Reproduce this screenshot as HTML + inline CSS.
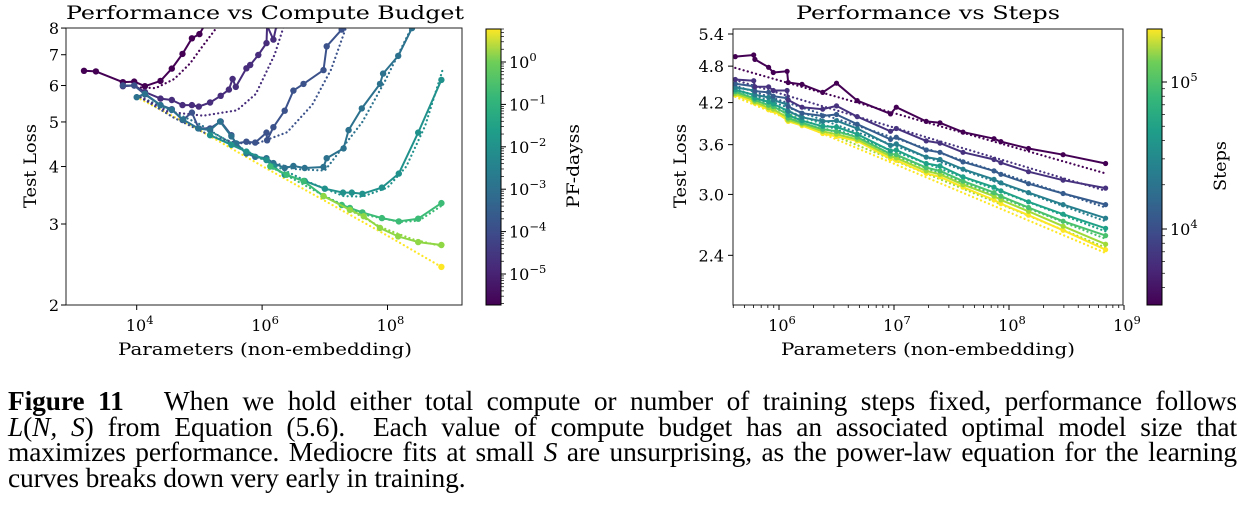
<!DOCTYPE html>
<html><head><meta charset="utf-8"><style>
body{margin:0;background:#fff;width:1245px;height:512px;overflow:hidden}
svg text{font-family:"DejaVu Serif",serif;fill:#000}
.cap{position:absolute;left:8px;width:1229px;font-family:"Liberation Serif",serif;font-size:27.4px;line-height:25.7px;text-align:justify;text-align-last:justify;white-space:nowrap;letter-spacing:-0.1px}
</style></head><body>
<svg id="fig" width="1245" height="380" style="position:absolute;left:0;top:0">
<defs>
<linearGradient id="vir" x1="0" y1="1" x2="0" y2="0">
<stop offset="0" stop-color="#440154"/><stop offset="0.13" stop-color="#482878"/><stop offset="0.25" stop-color="#3e4989"/><stop offset="0.38" stop-color="#31688e"/><stop offset="0.5" stop-color="#26828e"/><stop offset="0.63" stop-color="#1f9e89"/><stop offset="0.75" stop-color="#35b779"/><stop offset="0.88" stop-color="#6ece58"/><stop offset="1" stop-color="#fde725"/>
</linearGradient>
<clipPath id="clipL"><rect x="66" y="28" width="396" height="277"/></clipPath>
<clipPath id="clipR"><rect x="733" y="29" width="390" height="276"/></clipPath>
</defs>
<g id="left"></g><g id="right"></g>
</svg>
<div class="cap" style="top:389px"><b>Figure 11</b>&nbsp;&nbsp; When we hold either total compute or number of training steps fixed, performance follows</div>
<div class="cap" style="top:415px"><i>L</i>(<i>N, S</i>) from Equation (5.6).&nbsp; Each value of compute budget has an associated optimal model size that</div>
<div class="cap" style="top:440px">maximizes performance. Mediocre fits at small <i>S</i> are unsurprising, as the power-law equation for the learning</div>
<div class="cap" style="top:466px;text-align-last:left">curves breaks down very early in training.</div>
<script>
// ---------- LEFT CHART DATA (log10 params, test loss) ----------
const leftColors=["#440154","#472d7b","#3b528b","#2c728e","#21918c","#3bbb75","#8fd744","#fde725"];
const leftX1=[3.16,3.35,3.78,3.96,4.13,4.38,4.56,4.73,4.88,5.0,5.17];
const leftY1=[6.46,6.44,6.10,6.12,5.98,6.14,6.53,7.03,7.60,7.76,8.5];
const leftX2=[3.78,3.96,4.13,4.38,4.56,4.73,4.88,4.99,5.17,5.34,5.47,5.53,5.58,5.75,5.81,5.94,6.07,6.08,6.18,6.23];
const leftY2=[5.98,6.00,5.81,5.62,5.58,5.44,5.44,5.40,5.51,5.70,5.88,6.20,5.96,6.54,6.65,6.99,7.42,8.1,7.55,8.1];
const leftX3=[3.78,3.96,4.13,4.38,4.56,4.73,4.88,4.99,5.17,5.34,5.51,5.58,5.75,5.89,6.07,6.08,6.18,6.36,6.50,6.66,6.98,7.03,7.27];
const leftY3=[6.0,6.0,5.74,5.44,5.33,5.05,5.24,4.84,4.84,5.01,4.68,4.49,4.53,4.51,4.74,4.56,4.87,5.29,5.85,6.05,6.48,7.3,7.94];
const leftX4=[4.0,4.13,4.38,4.56,4.74,4.98,5.17,5.33,5.51,5.59,5.75,5.89,6.07,6.18,6.36,6.50,6.68,6.98,7.03,7.30,7.38,7.59,7.88,7.93,8.17,8.39];
const leftY4=[5.66,5.76,5.44,5.31,5.06,4.84,4.80,5.01,4.65,4.49,4.27,4.20,4.17,4.07,3.97,4.01,3.97,3.99,4.17,4.38,4.80,5.35,6.05,6.37,6.96,8.0];
const leftX5=[5.17,5.51,5.75,6.07,6.18,6.36,6.68,7.0,7.29,7.43,7.6,7.91,8.18,8.49,8.86];
const leftY5=[4.68,4.46,4.31,4.13,4.00,3.84,3.72,3.58,3.51,3.51,3.49,3.60,3.86,4.74,6.17];
const leftX6=[6.13,6.39,6.66,6.98,7.27,7.40,7.60,7.91,8.18,8.49,8.86];
const leftY6=[4.0,3.84,3.72,3.45,3.30,3.25,3.18,3.09,3.04,3.08,3.33];
const leftX7=[6.98,7.40,7.62,7.88,8.17,8.49,8.86];
const leftY7=[3.45,3.22,3.12,2.94,2.82,2.74,2.70];
const leftX8=[8.86];
const leftY8=[2.42];
const fitX1=[4.0,4.3,4.6,4.85,5.05,5.3], fitY1=[5.95,5.92,6.2,6.7,7.3,8.1];
const fitX2=[4.0,4.5,5.06,5.6,5.9,6.2,6.35], fitY2=[5.72,5.26,5.16,5.3,5.75,7.0,8.1];
const fitX3=[4.0,4.6,5.2,5.6,5.9,6.4,6.8,7.1,7.35], fitY3=[5.72,5.1,4.65,4.5,4.48,4.75,5.45,6.5,8.1];
const fitX4=[4.0,5.0,5.8,6.5,7.0,7.6,7.95,8.38], fitY4=[5.72,4.95,4.25,3.95,3.92,5.0,6.1,8.0];
const fitX5=[5.2,6.0,6.7,7.3,7.6,8.0,8.3,8.6,8.88], fitY5=[4.75,4.15,3.72,3.45,3.44,3.6,4.0,4.9,6.5];
const fitX6=[6.1,7.0,7.6,8.2,8.5,8.88], fitY6=[4.02,3.45,3.15,3.03,3.05,3.3];
const fitX7=[7.0,7.9,8.4,8.88], fitY7=[3.45,2.95,2.78,2.68];
const fitX8=[4.0,5.0,6.0,7.0,8.0,8.86], fitY8=[5.66,4.80,4.01,3.37,2.83,2.42];
const leftYTicks=[2,3,4,5,6,7,8];
const leftXTicks=[4,6,8];
const cbLeftTicks=[0,-1,-2,-3,-4,-5];

// ---------- RIGHT CHART DATA ----------
const rightColors=["#440154","#46327e","#365c8d","#277f8e","#1fa187","#4ac16d","#a0da39","#fde725"];
const rightX=[5.62,5.78,5.79,5.91,5.95,6.07,6.08,6.20,6.38,6.50,6.68,6.97,7.02,7.28,7.40,7.60,7.87,7.93,8.17,8.47,8.84];
const rightS1=[4.97,5.00,4.92,4.78,4.69,4.71,4.52,4.49,4.36,4.51,4.23,4.03,4.13,3.92,3.90,3.77,3.68,3.64,3.55,3.47,3.36];
const rightS2=[4.57,4.55,4.45,4.45,4.39,4.39,4.24,4.13,4.10,4.15,3.99,3.78,3.82,3.65,3.62,3.50,3.41,3.37,3.26,3.16,3.07];
const rightS3=[4.50,4.46,4.38,4.36,4.30,4.27,4.14,4.04,4.00,4.02,3.88,3.67,3.70,3.53,3.50,3.38,3.27,3.23,3.12,3.01,2.89];
const rightS4=[4.44,4.39,4.32,4.28,4.24,4.17,4.07,3.98,3.92,3.93,3.82,3.59,3.61,3.44,3.41,3.29,3.17,3.13,3.02,2.89,2.75];
const rightS5=[4.40,4.32,4.27,4.21,4.18,4.08,4.01,3.93,3.85,3.84,3.74,3.52,3.53,3.36,3.33,3.20,3.08,3.04,2.92,2.79,2.65];
const rightS6=[4.37,4.27,4.24,4.16,4.14,4.03,3.97,3.90,3.81,3.78,3.70,3.48,3.47,3.31,3.27,3.15,3.02,2.98,2.86,2.72,2.58];
const rightS7=[4.34,4.24,4.21,4.12,4.10,3.98,3.94,3.88,3.78,3.74,3.67,3.45,3.43,3.27,3.23,3.11,2.98,2.94,2.82,2.67,2.50];
const rightS8=[4.32,4.21,4.19,4.09,4.08,3.94,3.92,3.86,3.75,3.71,3.65,3.42,3.40,3.24,3.20,3.08,2.94,2.90,2.78,2.63,2.45];
const rightFitStart=[4.77,4.56,4.47,4.42,4.38,4.35,4.32,4.29];
const rightFitEnd=[3.24,3.04,2.86,2.72,2.62,2.55,2.47,2.42];
const rightYTicks=[2.4,3.0,3.6,4.2,4.8,5.4];
const rightXTicks=[6,7,8,9];
const cbRightTicks=[4,5];

const NS="http://www.w3.org/2000/svg";
function mk(parent,tag,attrs){const e=document.createElementNS(NS,tag);for(const k in attrs)e.setAttribute(k,attrs[k]);parent.appendChild(e);return e;}
function L10(v){return Math.log10(v);}
const lx=v=>136.7+(v-4)*62.7;
const ly=v=>305-L10(v/2)*460;
const rx=v=>779+(v-6)*115;
const ry=v=>34+L10(5.4/v)*628.4;

function sup(parent,x,y,base,exp,anchor,name){
  const t=mk(parent,"text",{x:x,y:y,"font-size":"16","text-anchor":anchor});
  
  
  const a=document.createElementNS(NS,"tspan");a.textContent=base;t.appendChild(a);
  const b=document.createElementNS(NS,"tspan");b.setAttribute("dy","-7");b.setAttribute("font-size","11.5");b.textContent=exp;t.appendChild(b);
  return t;
}
function txt(parent,x,y,s,size,anchor,name,rot,len){
  const t=mk(parent,"text",{x:x,y:y,"font-size":size,"text-anchor":anchor});
  if(rot)t.setAttribute("transform","rotate(-90 "+x+" "+y+")");
  if(len){t.setAttribute("textLength",len);t.setAttribute("lengthAdjust","spacingAndGlyphs");}
  
  
  t.textContent=s;return t;
}
function poly(parent,xs,ys,fx,fy,color,dotted,name){
  const d=xs.map((x,i)=>fx(x).toFixed(1)+","+fy(ys[i]).toFixed(1)).join(" ");
  const p=mk(parent,"polyline",{points:d,fill:"none",stroke:color,"stroke-width":dotted?2.2:2,"stroke-linecap":"round","stroke-linejoin":"round"});
  if(dotted)p.setAttribute("stroke-dasharray","0.1,4.2");
  
  
}
function dots(parent,xs,ys,fx,fy,color,r,name){
  xs.forEach((x,i)=>{const c=mk(parent,"circle",{cx:fx(x).toFixed(1),cy:fy(ys[i]).toFixed(1),r:r,fill:color});
    
    });
}

// ---------- LEFT ----------
const G=document.getElementById("left");


const gl=mk(G,"g",{"clip-path":"url(#clipL)"});
const lxs=[leftX1,leftX2,leftX3,leftX4,leftX5,leftX6,leftX7,leftX8];
const lys=[leftY1,leftY2,leftY3,leftY4,leftY5,leftY6,leftY7,leftY8];
const fxs=[fitX1,fitX2,fitX3,fitX4,fitX5,fitX6,fitX7,fitX8];
const fys=[fitY1,fitY2,fitY3,fitY4,fitY5,fitY6,fitY7,fitY8];
for(let i=7;i>=0;i--){poly(gl,fxs[i],fys[i],lx,ly,leftColors[i],true,"fit-line-budget-"+(i+1));}
for(let i=0;i<8;i++){poly(gl,lxs[i],lys[i],lx,ly,leftColors[i],false,"series-line-budget-"+(i+1));dots(gl,lxs[i],lys[i],lx,ly,leftColors[i],3.2,"point-budget-"+(i+1));}
const lf=mk(G,"rect",{x:66,y:28,width:396,height:277,fill:"none",stroke:"#222","stroke-width":1});


leftYTicks.forEach(v=>{const y=ly(v);mk(G,"line",{x1:61,x2:66,y1:y,y2:y,stroke:"#000"});txt(G,59,y+6,String(v),"16","end","y-tick-label");});
leftXTicks.forEach(v=>{const x=lx(v);mk(G,"line",{x1:x,x2:x,y1:305,y2:310,stroke:"#000"});sup(G,x+3,331,"10",String(v),"middle","x-tick-label");});
txt(G,265,19,"Performance vs Compute Budget","19","middle","left-chart-title",false,398);
txt(G,265,355,"Parameters (non-embedding)","17","middle","left-x-axis-title",false,294);
txt(G,36,166,"Test Loss","17","middle","left-y-axis-title",true,84);
const cb=mk(G,"rect",{x:486,y:29,width:15,height:276,fill:"url(#vir)",stroke:"#000","stroke-width":1});


const cby=v=>62+(0-v)*42.4;
cbLeftTicks.forEach(v=>{const y=cby(v);mk(G,"line",{x1:501,x2:506,y1:y,y2:y,stroke:"#000"});sup(G,509,y+6,"10",v===0?"0":"\u2212"+(-v),"start","colorbar-tick-label");});
for(let d=-6;d<=0;d++)for(let m=2;m<=9;m++){const y=cby(d+L10(m));if(y>29&&y<305)mk(G,"line",{x1:501,x2:504,y1:y,y2:y,stroke:"#000","stroke-width":0.7});}
txt(G,579,166,"PF-dayss","17","middle","colorbar-title",true,84);

// ---------- RIGHT ----------
const R=document.getElementById("right");


const gr=mk(R,"g",{"clip-path":"url(#clipR)"});
const rs=[rightS1,rightS2,rightS3,rightS4,rightS5,rightS6,rightS7,rightS8];
for(let i=7;i>=0;i--){const xs=[rightX[0],rightX[rightX.length-1]];poly(gr,xs,[rightFitStart[i],rightFitEnd[i]],rx,ry,rightColors[i],true,"fit-line-steps-"+(i+1));}
for(let i=7;i>=0;i--){poly(gr,rightX,rs[i],rx,ry,rightColors[i],false,"series-line-steps-"+(i+1));dots(gr,rightX,rs[i],rx,ry,rightColors[i],2.6,"point-steps-"+(i+1));}
const rf=mk(R,"rect",{x:733,y:29,width:390,height:276,fill:"none",stroke:"#222","stroke-width":1});


rightYTicks.forEach(v=>{const y=ry(v);mk(R,"line",{x1:728,x2:733,y1:y,y2:y,stroke:"#000"});txt(R,724,y+6,v.toFixed(1),"16","end","y-tick-label");});
rightXTicks.forEach(v=>{const x=rx(v);mk(R,"line",{x1:x,x2:x,y1:305,y2:310,stroke:"#000"});sup(R,x+3,331,"10",String(v),"middle","x-tick-label");});
for(let d=5;d<=9;d++)for(let m=2;m<=9;m++){const x=rx(d+L10(m));if(x>733&&x<1123)mk(R,"line",{x1:x,x2:x,y1:305,y2:308,stroke:"#000","stroke-width":0.8});}
txt(R,928,19,"Performance vs Steps","19","middle","right-chart-title",false,264);
txt(R,928,355,"Parameters (non-embedding)","17","middle","right-x-axis-title",false,294);
txt(R,686,166,"Test Loss","17","middle","right-y-axis-title",true,84);
const cb2=mk(R,"rect",{x:1147,y:29,width:15,height:276,fill:"url(#vir)",stroke:"#000","stroke-width":1});


const cby2=v=>82+(5-v)*147;
cbRightTicks.forEach(v=>{const y=cby2(v);mk(R,"line",{x1:1162,x2:1167,y1:y,y2:y,stroke:"#000"});sup(R,1170,y+6,"10",String(v),"start","colorbar-tick-label");});
for(let d=3;d<=5;d++)for(let m=2;m<=9;m++){const y=cby2(d+L10(m));if(y>29&&y<305)mk(R,"line",{x1:1162,x2:1165,y1:y,y2:y,stroke:"#000","stroke-width":0.7});}
txt(R,1226,166,"Steps","17","middle","colorbar-title",true,50);
</script>
</body></html>
